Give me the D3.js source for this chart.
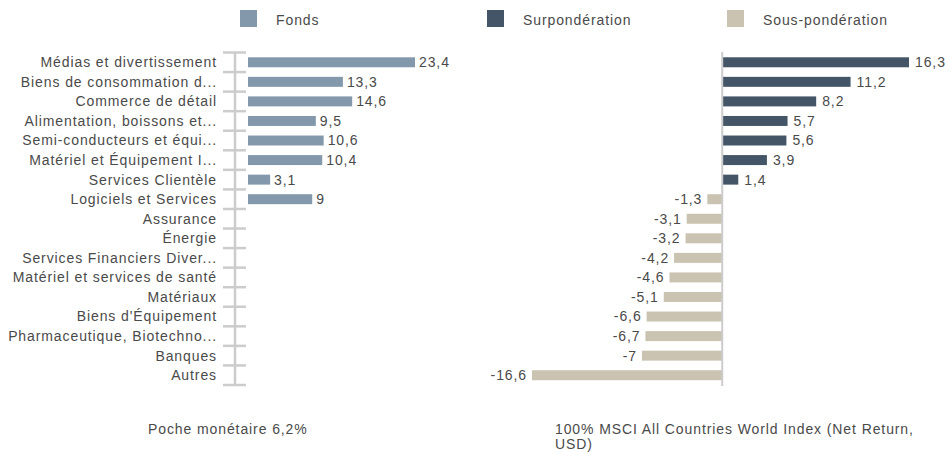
<!DOCTYPE html>
<html><head><meta charset="utf-8">
<script src="https://cdn.jsdelivr.net/npm/d3@7"></script>
<style>
body{margin:0;background:#fff;}
text{font-family:"Liberation Sans",Arial,sans-serif;fill:#4a4a4a;letter-spacing:0.9px;}
</style></head>
<body>
<svg id="chart" width="951" height="452"></svg>
<script>
const categories = ["Médias et divertissement","Biens de consommation d...","Commerce de détail","Alimentation, boissons et...","Semi-conducteurs et équi...","Matériel et Équipement I...","Services Clientèle","Logiciels et Services","Assurance","Énergie","Services Financiers Diver...","Matériel et services de santé","Matériaux","Biens d'Équipement","Pharmaceutique, Biotechno...","Banques","Autres"];
const fundValues = [23.4,13.3,14.6,9.5,10.6,10.4,3.1,9,null,null,null,null,null,null,null,null,null];
const activeValues = [16.3,11.2,8.2,5.7,5.6,3.9,1.4,-1.3,-3.1,-3.2,-4.2,-4.6,-5.1,-6.6,-6.7,-7,-16.6];
const legendLabels = ["Fonds","Surpondération","Sous-pondération"];
const colors = {fund:"#8399ab", over:"#435566", under:"#cbc3b1"};
const footLeft = ["Poche monétaire 6,2%"];
const footRight = ["100% MSCI All Countries World Index (Net Return,","USD)"];

const fmt = v => String(v).replace(".", ",");
const svg = d3.select("#chart");

const y = d3.scaleBand().domain(categories).range([52.5, 385]).paddingInner(0.49).paddingOuter(0.245);
const yBand = d3.scaleBand().domain(categories).range([52.5, 385]);

// Left panel
const xL = d3.scaleLinear().domain([0, 23.4]).range([248, 415]);
const gL = svg.append("g");
const tickYs = categories.map(c => yBand(c)).concat([385]);
gL.selectAll("line.tick").data(tickYs).join("line")
  .attr("x1",223).attr("x2",246).attr("y1",d=>d).attr("y2",d=>d)
  .attr("stroke","#cccccc").attr("stroke-width",2.5);
gL.append("line").attr("x1",235).attr("x2",235).attr("y1",52.5).attr("y2",385)
  .attr("stroke","#cccccc").attr("stroke-width",2.5);
gL.selectAll("text.cat").data(categories).join("text")
  .attr("x",217).attr("y",d=>y(d)+y.bandwidth()/2).attr("dy","0.35em")
  .attr("text-anchor","end").attr("font-size",14).text(d=>d);
const fundData = categories.map((c,i)=>({c, v:fundValues[i]})).filter(d=>d.v!=null);
gL.selectAll("rect").data(fundData).join("rect")
  .attr("x",xL(0)).attr("y",d=>y(d.c)).attr("width",d=>xL(d.v)-xL(0)).attr("height",y.bandwidth())
  .attr("fill",colors.fund);
gL.selectAll("text.val").data(fundData).join("text")
  .attr("x",d=>xL(d.v)+4).attr("y",d=>y(d.c)+y.bandwidth()/2).attr("dy","0.35em")
  .attr("font-size",14).text(d=>fmt(d.v));

// Right panel
const xR = d3.scaleLinear().domain([-16.6, 16.3]).range([532, 909]);
const gR = svg.append("g");
const actData = categories.map((c,i)=>({c, v:activeValues[i]}));
gR.selectAll("rect").data(actData).join("rect")
  .attr("x",d=>Math.min(xR(0),xR(d.v))).attr("y",d=>y(d.c))
  .attr("width",d=>Math.abs(xR(d.v)-xR(0))).attr("height",y.bandwidth())
  .attr("fill",d=>d.v>=0?colors.over:colors.under);
gR.append("line").attr("x1",xR(0)).attr("x2",xR(0)).attr("y1",52).attr("y2",386)
  .attr("stroke","#cccccc").attr("stroke-width",2);
gR.selectAll("text.val").data(actData).join("text")
  .attr("x",d=>d.v>=0?xR(d.v)+6:xR(d.v)-5)
  .attr("y",d=>y(d.c)+y.bandwidth()/2).attr("dy","0.35em")
  .attr("text-anchor",d=>d.v>=0?"start":"end")
  .attr("font-size",14).text(d=>fmt(d.v));

// Legend
const legendX = [240, 487, 727];
const legendC = [colors.fund, colors.over, colors.under];
const lg = svg.append("g");
legendLabels.forEach((l,i)=>{
  lg.append("rect").attr("x",legendX[i]).attr("y",10).attr("width",17).attr("height",17).attr("fill",legendC[i]);
  lg.append("text").attr("x",legendX[i]+36).attr("y",25).attr("font-size",14).text(l);
});

// Footer
svg.selectAll("text.fl").data(footLeft).join("text").attr("x",148).attr("y",(d,i)=>434+i*15)
  .attr("font-size",14).text(d=>d);
svg.selectAll("text.fr").data(footRight).join("text").attr("x",555).attr("y",(d,i)=>434+i*15)
  .attr("font-size",14).text(d=>d);
</script>
</body></html>
